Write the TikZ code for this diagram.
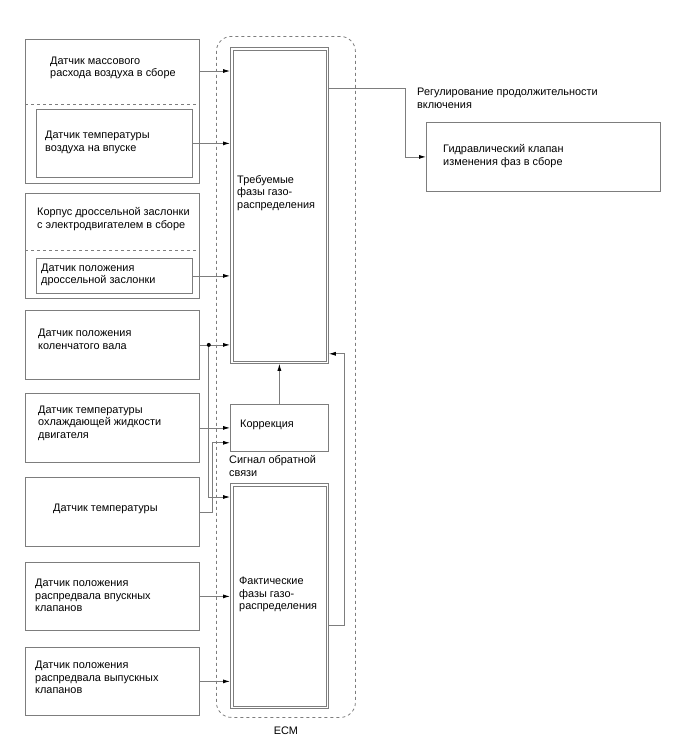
\documentclass[tikz,border=0pt]{standalone}
\usepackage{fontspec}
\setmainfont{Liberation Sans}
\usetikzlibrary{arrows.meta,positioning,calc}
\definecolor{lineg}{RGB}{125,125,125}
\begin{document}
\begin{tikzpicture}[x=1pt,y=-1pt,
  bx/.style={draw=lineg,line width=0.8pt,inner sep=0pt,anchor=north west},
  txt/.style={anchor=west,align=left,inner sep=0pt,font=\fontsize{10.9}{12.5}\selectfont},
  ln/.style={draw=lineg,line width=0.8pt},
  ar/.style={draw=lineg,line width=0.8pt,-{Latex[length=7pt,width=4pt,color=black]}}]
\useasboundingbox (0,0) rectangle (688,755);
% sensors on the left
\node[bx,minimum width=174pt,minimum height=144pt] (grpA) at (25,39) {};
\node[bx,minimum width=156pt,minimum height=68pt] (iatA) at (36,109) {};
\node[bx,minimum width=174pt,minimum height=105pt] (grpB) at (25,193) {};
\node[bx,minimum width=156pt,minimum height=35pt] (tps) at (36,258) {};
\node[bx,minimum width=174pt,minimum height=69pt] (ckp) at (25,310) {};
\node[bx,minimum width=174pt,minimum height=69pt] (ect) at (25,393) {};
\node[bx,minimum width=174pt,minimum height=69pt] (iat) at (25,477) {};
\node[bx,minimum width=174pt,minimum height=68pt] (cmpin) at (25,562) {};
\node[bx,minimum width=174pt,minimum height=68pt] (cmpex) at (25,647) {};
\draw[ln,dashed] ($(grpA.north west)+(0,65)$) -- ($(grpA.north east)+(0,65)$);
\draw[ln,dashed] ($(grpB.north west)+(0,57)$) -- ($(grpB.north east)+(0,57)$);
\node[txt] (tmaf) at (50,68) {Датчик массового\\расхода воздуха в сборе};
\node[txt] (tiatA) at (45,142.5) {Датчик температуры\\воздуха на впуске};
\node[txt] (tgrpB) at (37,219) {Корпус дроссельной заслонки\\с электродвигателем в сборе};
\node[txt] (ttps) at (41,275) {Датчик положения\\дроссельной заслонки};
\node[txt] (tckp) at (38,339.5) {Датчик положения\\коленчатого вала};
\node[txt] (tect) at (38,423) {Датчик температуры\\охлаждающей жидкости\\двигателя};
\node[txt] (tiat) at (53,509) {Датчик температуры};
\node[txt] (tcmpin) at (35,595.5) {Датчик положения\\распредвала впускных\\клапанов};
\node[txt] (tcmpex) at (35,677.5) {Датчик положения\\распредвала выпускных\\клапанов};
% ECM
\node[draw=lineg,line width=0.8pt,dashed,rounded corners=15pt,anchor=north west,minimum width=139pt,minimum height=681pt,inner sep=0pt] (ecm) at (216,36) {};
\node[txt,anchor=north] (tecm) at ($(ecm.south)+(0,9)$) {ECM};
\node[bx,minimum width=98pt,minimum height=316pt] (req) at (230,47) {};
\draw[ln,line width=0.6pt] ($(req.north west)+(3,3)$) rectangle ($(req.south east)+(-3,-3)$);
\node[bx,minimum width=98pt,minimum height=47pt] (corr) at (230,404) {};
\node[bx,minimum width=98pt,minimum height=225pt] (act) at (230,483) {};
\draw[ln,line width=0.6pt] ($(act.north west)+(3,3)$) rectangle ($(act.south east)+(-3,-3)$);
\node[txt] (treq) at (237,193) {Требуемые\\фазы газо-\\распределения};
\node[txt] (tcorr) at (240,425) {Коррекция};
\node[txt] (tact) at (239,594.5) {Фактические\\фазы газо-\\распределения};
\node[txt] (tfb) at (229,466) {Сигнал обратной\\связи};
% valve
\node[bx,minimum width=234pt,minimum height=69pt] (valve) at (426,122) {};
\node[txt] (tvalve) at (443,156) {Гидравлический клапан\\изменения фаз в сборе};
\node[txt] (tduty) at (417,98.5) {Регулирование продолжительности\\включения};
% connectors
\coordinate (mafo) at ($(grpA.north east)+(0,32)$);
\draw[ar] (mafo) -- (mafo -| req.west);
\draw[ar] (iatA.east) -- (iatA.east -| req.west);
\draw[ar] (tps.east) -- (tps.east -| req.west);
\coordinate (jn) at ($(ckp.east)+(9,0)$);
\coordinate (actin) at ($(act.north west)+(0,14)$);
\draw[ln] (ckp.east) -- (jn);
\draw[ar] (jn) -- (jn -| req.west);
\draw[ar] (jn) |- (actin);
\fill (jn) circle (2pt);
\draw[ar] (ect.east) -- (ect.east -| corr.west);
\coordinate (iatb) at ($(iat.east)+(13,0)$);
\coordinate (corrin) at ($(corr.south west)+(0,-9)$);
\draw[ar] (iat.east) -- (iatb) |- (corrin);
\draw[ar] (cmpin.east) -- (cmpin.east -| act.west);
\draw[ar] (cmpex.east) -- (cmpex.east -| act.west);
\draw[ar] (corr.north) -- (corr.north |- req.south);
\coordinate (fbo) at ($(act.south east)+(0,-83)$);
\coordinate (fbr) at ($(fbo)+(16,0)$);
\coordinate (fbi) at ($(req.south east)+(0,-10)$);
\draw[ar] (fbo) -- (fbr) |- (fbi);
\coordinate (reqo) at ($(req.north east)+(0,41)$);
\coordinate (vb) at ($(valve.west)+(-21,0)$);
\draw[ar] (reqo) -| (vb) -- (valve.west);
\end{tikzpicture}
\end{document}
